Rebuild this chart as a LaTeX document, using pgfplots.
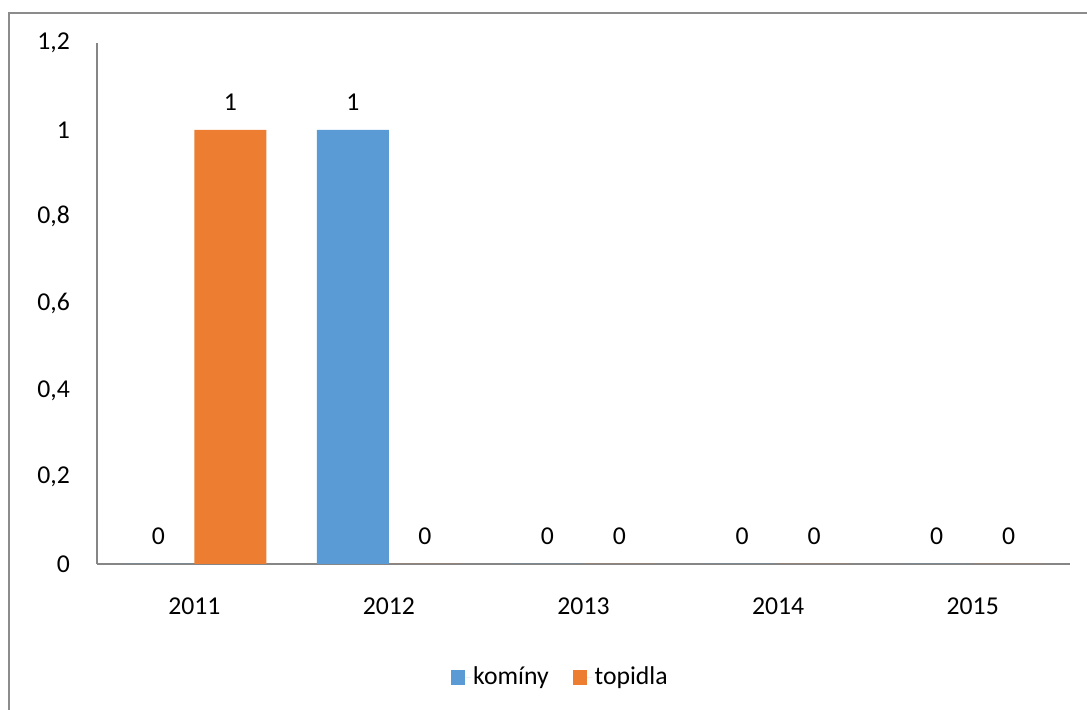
\documentclass[border=0pt]{standalone}
\usepackage{fontspec}
\setmainfont{Carlito}
\usepackage{pgfplots}
\pgfplotsset{compat=1.18}
\definecolor{kominy}{HTML}{5B9BD5}
\definecolor{topidla}{HTML}{ED7D31}
\definecolor{axisgray}{HTML}{868686}
\definecolor{framegray}{HTML}{8C8C8C}
\newcommand{\chartfont}{\fontsize{25.7bp}{30bp}\selectfont}
\pgfplotsset{
  sq legend/.style={legend image code/.code={%
    \fill[##1] (0bp,-7.5bp) rectangle (14bp,7.5bp);
    \path (0bp,0bp) -- (20bp,0bp);}},
}
\begin{document}
\chartfont
\begin{tikzpicture}[x=1bp,y=1bp]
\useasboundingbox (0,0) rectangle (1087,710);
% chart frame (top and left edges)
\draw[framegray, line width=2.5bp] (9,-5) -- (9,697) -- (1092,697);
\begin{axis}[
  at={(97bp,146bp)}, anchor=south west,
  scale only axis, width=973bp, height=521bp,
  ybar=0pt, bar width=72bp,
  xmin=-0.5, xmax=4.5, ymin=0, ymax=1.2,
  xtick={0,1,2,3,4}, xticklabels={2011,2012,2013,2014,2015},
  ytick={0,0.2,0.4,0.6,0.8,1,1.2},
  axis x line*=bottom, axis y line*=left,
  axis line style={axisgray, line width=1.2bp, -},
  major tick length=0pt,
  tick label style={font=\chartfont, text=black},
  yticklabel style={anchor=east, inner sep=0pt, xshift=-27bp},
  xticklabel style={anchor=north, inner sep=0pt, yshift=-34bp},
  /pgf/number format/.cd, use comma, fixed, precision=1, assume math mode=true, /pgfplots/.cd,
  nodes near coords,
  every node near coord/.append style={anchor=base, inner sep=0pt, yshift=19bp, font=\chartfont, text=black},
  legend style={at={(0.4763,-0.217)}, anchor=center, draw=none, fill=none, legend columns=2,
    font=\chartfont, /tikz/every even column/.append style={column sep=22bp}},
]
\addplot[fill=kominy, draw=none, sq legend] coordinates {(0,0) (1,1) (2,0) (3,0) (4,0)};
\addplot[fill=topidla, draw=none, sq legend] coordinates {(0,1) (1,0) (2,0) (3,0) (4,0)};
\legend{komíny, topidla}
\end{axis}
\end{tikzpicture}
\end{document}
